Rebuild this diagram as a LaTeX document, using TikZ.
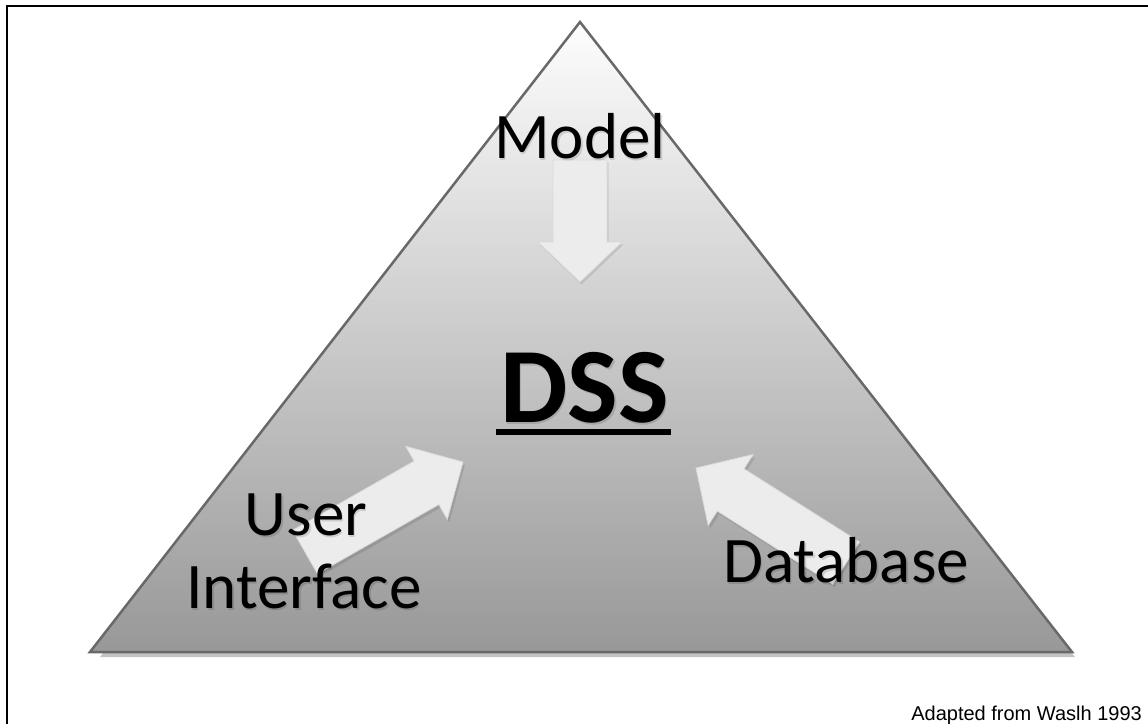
\documentclass[tikz,border=0pt]{standalone}
\usepackage{fontspec}
\setmainfont{Carlito}
\newfontfamily\arialf{Liberation Sans}
\usetikzlibrary{calc}
\definecolor{arrowfill}{RGB}{236,236,236}
\definecolor{arrowedge}{RGB}{218,218,218}
\definecolor{triedge}{RGB}{105,105,105}
\definecolor{tritop}{RGB}{253,253,253}
\definecolor{tribot}{RGB}{152,152,152}
\definecolor{trishadow}{RGB}{196,196,196}
\newcommand\arrowpoly[6]{($(#1)!#3!90:(#2)+#6$) -- ($(#5)!#3!-90:(#1)+#6$) -- ($(#5)!#4!-90:(#1)+#6$) -- ($(#2)+#6$) -- ($(#5)!#4!90:(#1)+#6$) -- ($(#5)!#3!90:(#1)+#6$) -- ($(#1)!#3!-90:(#2)+#6$) -- cycle}
\tikzset{
  lbl/.style={inner sep=0pt, anchor=base, font=\fontsize{65}{75}\selectfont},
  lblshadow/.style={lbl, text=black, text opacity=0.13},
  dssfont/.style={font=\bfseries\fontsize{107}{110}\selectfont},
  blockarrow/.style={fill=arrowfill, draw=arrowedge, line width=0.8pt, line join=miter},
  blockshadow/.style={fill=black, fill opacity=0.10, draw=none},
}
\begin{document}
\begin{tikzpicture}[x=1pt,y=-1pt]
\useasboundingbox (0,0) rectangle (1148,723);
\clip (0,0) rectangle (1148,723);
% frame
\draw[line width=2pt] (7,740) -- (7,6) -- (1170,6);
% triangle
\coordinate (apex) at (580,22);
\coordinate (bl) at (90,652);
\coordinate (br) at (1072,652);
\fill[trishadow] ($(apex)+(3,5)$) -- ($(bl)+(10,5)$) -- ($(br)+(3,5)$) -- cycle;
\shade[top color=tritop, bottom color=tribot] (apex) -- (bl) -- (br) -- cycle;
\draw[triedge, line width=2.5pt, line join=miter] (apex) -- (bl) -- (br) -- cycle;
% model arrow
\coordinate (mT) at (580,160);
\coordinate (mP) at (580,282);
\coordinate (mH) at ($(mP)!40pt!(mT)$);
\fill[blockshadow] \arrowpoly{mT}{mP}{27pt}{42pt}{mH}{(1.5,2.5)};
\path[blockarrow] \arrowpoly{mT}{mP}{27pt}{42pt}{mH}{(0,0)};
% user arrow
\coordinate (uT) at (305,552);
\coordinate (uP) at (463,462);
\coordinate (uH) at ($(uP)!42pt!(uT)$);
\fill[blockshadow] \arrowpoly{uT}{uP}{25pt}{42pt}{uH}{(2,3)};
\path[blockarrow] \arrowpoly{uT}{uP}{25pt}{42pt}{uH}{(0,0)};
% database arrow
\coordinate (dT) at (846,563);
\coordinate (dP) at (696,468);
\coordinate (dH) at ($(dP)!41pt!(dT)$);
\fill[blockshadow] \arrowpoly{dT}{dP}{25pt}{42pt}{dH}{(2,3)};
\path[blockarrow] \arrowpoly{dT}{dP}{25pt}{42pt}{dH}{(0,0)};
% texts
\node[lblshadow] at (581.5,160) {Model};
\node[lbl] (model) at (580,158) {Model};
\node[lblshadow] at (307.5,537) {User};
\node[lbl] (user) at (306,535) {User};
\node[lblshadow] at (305.5,610) {Interface};
\node[lbl] (interface) at (304,608) {Interface};
\node[lblshadow] at (847.5,584) {Database};
\node[lbl] (database) at (846,582) {Database};
\node[lblshadow, dssfont] at (586,424) {DSS};
\node[lbl, dssfont] (dss) at (584.5,422) {DSS};
\draw[line width=6pt] ($(dss.base west)+(-4,10)$) -- ($(dss.base east)+(2,10)$);
% credit
\node[inner sep=0pt, anchor=base east, font=\arialf\fontsize{20}{24}\selectfont] (credit) at (1142,720) {Adapted from Waslh 1993};
\end{tikzpicture}
\end{document}
